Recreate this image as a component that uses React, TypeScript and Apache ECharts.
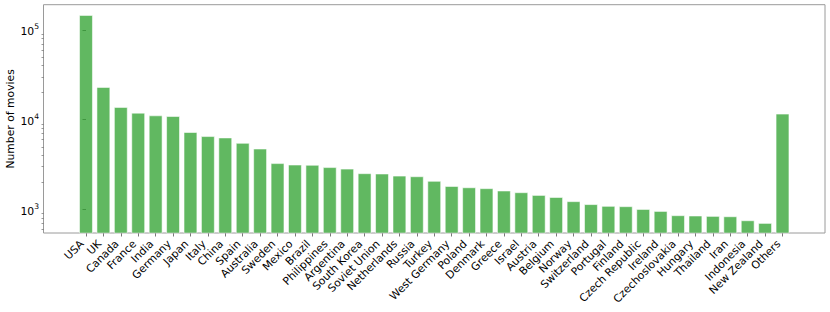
import React, { useEffect, useRef } from "react";
import * as echarts from "echarts";

const countries: string[] = [
  "USA", "UK", "Canada", "France", "India", "Germany", "Japan", "Italy", "China", "Spain",
  "Australia", "Sweden", "Mexico", "Brazil", "Philippines", "Argentina", "South Korea",
  "Soviet Union", "Netherlands", "Russia", "Turkey", "West Germany", "Poland", "Denmark",
  "Greece", "Israel", "Austria", "Belgium", "Norway", "Switzerland", "Portugal", "Finland",
  "Czech Republic", "Ireland", "Czechoslovakia", "Hungary", "Thailand", "Iran", "Indonesia",
  "New Zealand", "Others",
];

const movieCounts: number[] = [
  147000, 23200, 13900, 12000, 11200, 11000, 7300, 6580, 6350, 5530,
  4780, 3290, 3170, 3150, 2970, 2860, 2540,
  2520, 2390, 2350, 2090, 1830, 1770, 1730,
  1630, 1560, 1455, 1380, 1240, 1150, 1100, 1090,
  1015, 965, 865, 858, 850, 842, 760,
  710, 11700,
];

const majorTicks: number[] = [1000, 10000, 100000];
const minorTicks: number[] = [
  600, 700, 800, 900,
  2000, 3000, 4000, 5000, 6000, 7000, 8000, 9000,
  20000, 30000, 40000, 50000, 60000, 70000, 80000, 90000,
];

const Y_MIN = 548;
const Y_MAX = 191000;
const X_MIN = -2.44;
const X_MAX = 42.44;

const FS = 10.8;

export default function App() {
  const ref = useRef<HTMLDivElement>(null);

  useEffect(() => {
    if (!ref.current) return;
    const chart = echarts.init(ref.current, null, { renderer: "svg" });
    const idx = countries.map((_, i) => i);
    const frame = "#9a9a9a";
    chart.setOption({
      animation: false,
      textStyle: { fontFamily: "DejaVu Sans", color: "#000" },
      grid: {
        left: 43.5,
        right: 5,
        top: 4.7,
        bottom: 79,
        outerBoundsMode: "none",
        containLabel: false,
        show: true,
        borderColor: frame,
        borderWidth: 1,
        backgroundColor: "transparent",
      },
      xAxis: {
        type: "value",
        min: X_MIN,
        max: X_MAX,
        axisLine: { show: false },
        splitLine: { show: false },
        axisTick: {
          show: true,
          customValues: idx,
          length: 3.5,
          lineStyle: { color: "#555", width: 0.8 },
        },
        axisLabel: {
          customValues: idx,
          rotate: 45,
          margin: 13,
          verticalAlign: "bottom",
          fontSize: FS,
          color: "#000",
          fontFamily: "DejaVu Sans",
          formatter: (v: number) => countries[Math.round(v)] ?? "",
        },
      },
      yAxis: [
        {
          type: "log",
          logBase: 10,
          min: Y_MIN,
          max: Y_MAX,
          name: "Number of movies",
          nameLocation: "middle",
          nameGap: 28,
          nameMoveOverlap: false,
          nameRotate: 90,
          nameTextStyle: { fontSize: FS, color: "#000", fontFamily: "DejaVu Sans" },
          axisLine: { show: false },
          splitLine: { show: false },
          axisTick: {
            show: true,
            customValues: majorTicks,
            length: 3.5,
            lineStyle: { color: "#555", width: 0.8 },
          },
          axisLabel: {
            customValues: majorTicks,
            margin: 4.5,
            color: "#000",
            fontSize: FS,
            fontFamily: "DejaVu Sans",
            formatter: (v: number) => `{b|10}{s|${Math.round(Math.log10(v))}}`,
            rich: {
              b: { fontSize: FS, fontFamily: "DejaVu Sans", color: "#000", verticalAlign: "bottom", lineHeight: 15 },
              s: { fontSize: 7.6, fontFamily: "DejaVu Sans", color: "#000", verticalAlign: "top", lineHeight: 15, padding: [0, 0, 4, 0] },
            },
          },
        },
        {
          type: "log",
          logBase: 10,
          min: Y_MIN,
          max: Y_MAX,
          position: "left",
          axisLine: { show: false },
          splitLine: { show: false },
          axisLabel: { show: false },
          axisTick: {
            show: true,
            customValues: minorTicks,
            length: 2,
            lineStyle: { color: "#555", width: 0.6 },
          },
        },
      ],
      series: [
        {
          type: "bar",
          yAxisIndex: 0,
          barWidth: 13.9,
          clip: true,
          data: movieCounts.map((v, i) => [i, v]),
          itemStyle: {
            color: "rgba(44,160,44,0.75)",
            borderColor: "rgba(255,255,255,0.55)",
            borderWidth: 1,
          },
        },
      ],
    });
    return () => chart.dispose();
  }, []);

  return (
    <div
      ref={ref}
      style={{ position: "fixed", left: 0, top: 0, width: 830, height: 312, background: "#fff" }}
    />
  );
}
